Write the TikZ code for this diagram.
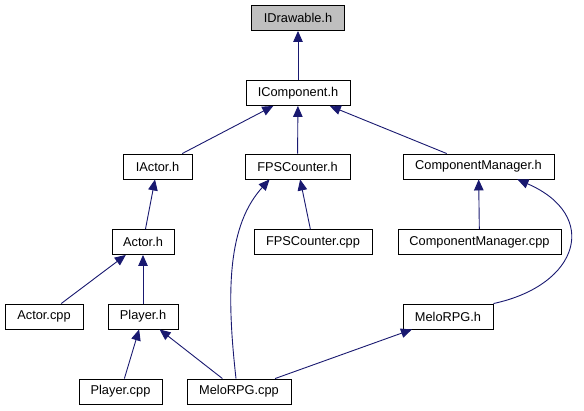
\documentclass[tikz,border=0pt]{standalone}
\usepackage{fontspec}
\setmainfont{Liberation Sans}
\usepackage{tikz}
\usetikzlibrary{arrows.meta}
\definecolor{edgeblue}{HTML}{191970}
\definecolor{rootgray}{HTML}{BFBFBF}

\begin{document}
\begin{tikzpicture}[x=1pt, y=-1pt,
  file/.style={draw=black, line width=0.9pt, fill=white, minimum height=25pt,
    inner sep=0pt, font=\fontsize{12.8}{15}\selectfont},
  dep/.style={draw=edgeblue, line width=0.9pt, -{Triangle[length=11pt,width=9.5pt]}}]
  \useasboundingbox (0,0) rectangle (584,411);

  % Top of the graph
  \node[file, fill=rootgray, minimum width=93pt] (idraw) at (298, 18) {IDrawable.h};
  \node[file, minimum width=104pt] (icomp) at (298, 93) {IComponent.h};

  % Headers including IComponent.h
  \node[file, minimum width=69pt] (iactor) at (157.5, 166.5) {IActor.h};
  \node[file, minimum width=105pt] (fpsh) at (297.5, 166.5) {FPSCounter.h};
  \node[file, minimum width=151pt] (cmgrh) at (478.5, 166.5) {ComponentManager.h};

  % Next level
  \node[file, minimum width=62pt] (actorh) at (143, 242) {Actor.h};
  \node[file, minimum width=118pt] (fpscpp) at (313, 242) {FPSCounter.cpp};
  \node[file, minimum width=163pt] (cmgrcpp) at (479.5, 242) {ComponentManager.cpp};

  \node[file, minimum width=78pt] (actorcpp) at (44, 316.5) {Actor.cpp};
  \node[file, minimum width=70pt] (playerh) at (143, 316.5) {Player.h};
  \node[file, minimum width=90pt] (meloh) at (448, 316.5) {MeloRPG.h};

  % Bottom row
  \node[file, minimum width=83pt] (playercpp) at (120.5, 391.5) {Player.cpp};
  \node[file, minimum width=104pt] (melocpp) at (239, 391.5) {MeloRPG.cpp};

  % Include edges
  \draw[dep] (icomp) -- (idraw);
  \draw[dep] (iactor) -- (icomp);
  \draw[dep] (fpsh) -- (icomp);
  \draw[dep] (cmgrh) -- (icomp);
  \draw[dep] (actorh) -- (iactor);
  \draw[dep] (fpscpp) -- (fpsh);
  \draw[dep] (cmgrcpp) -- (cmgrh);
  \draw[dep] (actorcpp) -- (actorh);
  \draw[dep] (playerh) -- (actorh);
  \draw[dep] (playercpp) -- (playerh);
  \draw[dep] (melocpp) -- (playerh);
  \draw[dep] (melocpp) -- (meloh);
  \draw[dep] ([xshift=-3pt]melocpp.north) .. controls (226,290) and (228,225) .. ([xshift=25pt]fpsh.south west);
  \draw[dep] (meloh.north east) .. controls (580,285) and (600,215) .. ([xshift=-37pt]cmgrh.south east);
\end{tikzpicture}
\end{document}
